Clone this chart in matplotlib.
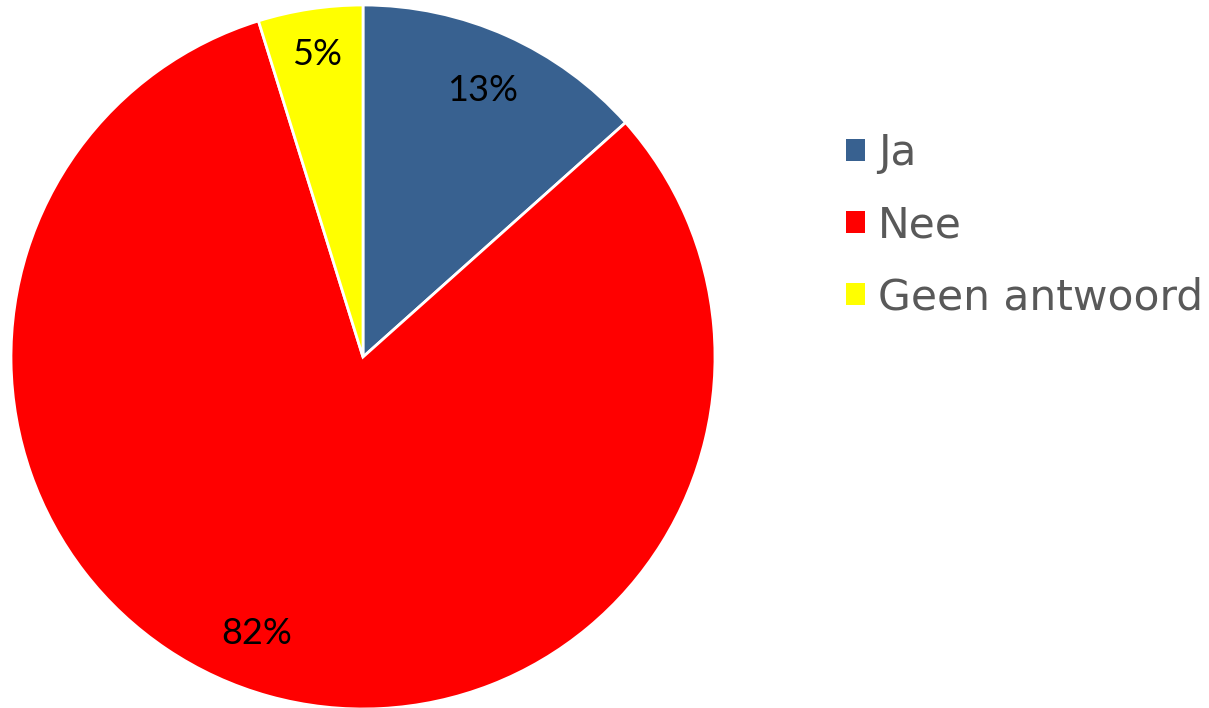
import matplotlib
matplotlib.use('Agg')
import matplotlib.pyplot as plt
import numpy as np

labels = ['Ja', 'Nee', 'Geen antwoord']
shares = [13.4, 81.8, 4.8]
colors = ['#386190', '#FF0000', '#FFFF00']

fig = plt.figure(figsize=(12.09, 7.08), dpi=100)
# pie centre around (363, 357) px, radius ~352 px
r_px = 352
ax = fig.add_axes([(363 - r_px) / 1209, (708 - 357 - r_px) / 708, 2 * r_px / 1209, 2 * r_px / 708])

wedges, texts, autotexts = ax.pie(
    shares, colors=colors, startangle=90, counterclock=False,
    autopct='%1.0f%%', pctdistance=0.83,
    wedgeprops=dict(edgecolor='white', linewidth=2),
    textprops=dict(fontsize=26, family='Lato', color='black'))
ax.set_xlim(-1, 1)
ax.set_ylim(-1, 1)
ax.set_aspect('equal')

# Excel places the labels a bit differently than matplotlib
ang = np.deg2rad(-111)
autotexts[1].set_position((0.84 * np.cos(ang), 0.84 * np.sin(ang)))
w = wedges[2]
ang = np.deg2rad((w.theta1 + w.theta2) / 2)
autotexts[2].set_position((0.87 * np.cos(ang), 0.87 * np.sin(ang)))

leg = fig.legend(wedges, labels, loc='upper left', bbox_to_anchor=(846 / 1209, 1 - 132 / 708),
                 frameon=False, fontsize=30.5, handlelength=0.45, handleheight=0.45,
                 handletextpad=0.3, labelspacing=0.71, borderpad=0, borderaxespad=0)
for t in leg.get_texts():
    t.set_color('#595959')
for h in leg.legend_handles:
    h.set_edgecolor('none')

fig.savefig('out.png', dpi=100)
